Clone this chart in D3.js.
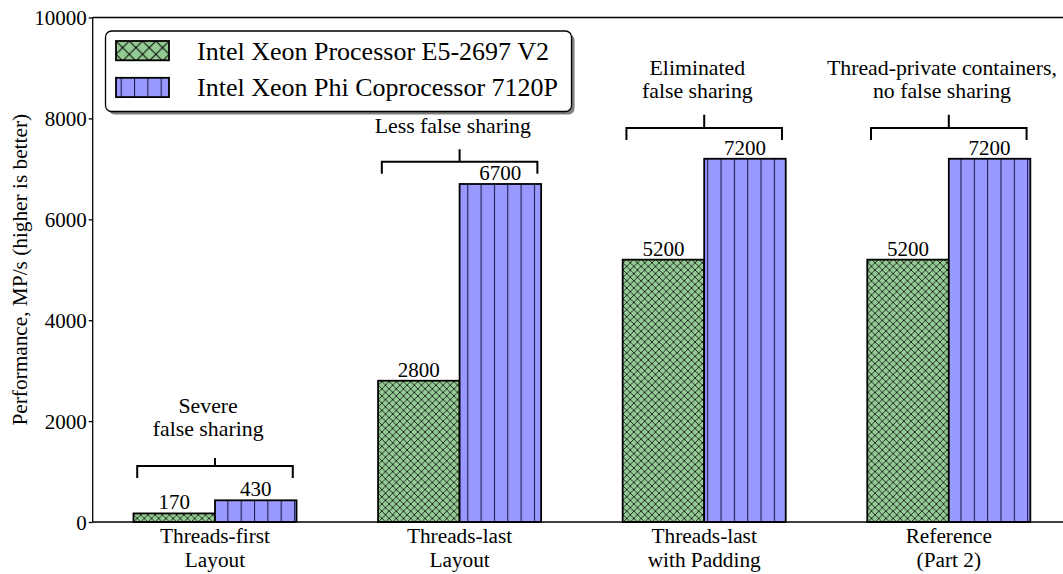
<!DOCTYPE html>
<html>
<head>
<meta charset="utf-8">
<script src="https://cdn.jsdelivr.net/npm/d3@7"></script>
<style>
  html, body { margin: 0; padding: 0; background: #fff; }
  svg { display: block; }
  text { font-family: "Liberation Serif", "Times New Roman", serif; fill: #000; }
</style>
</head>
<body>
<svg id="chart" width="1063" height="574"></svg>
<script>
// ---- data ----
const categories = [
  ["Threads-first", "Layout"],
  ["Threads-last", "Layout"],
  ["Threads-last", "with Padding"],
  ["Reference", "(Part 2)"]
];
const seriesNames = ["Intel Xeon Processor E5-2697 V2", "Intel Xeon Phi Coprocessor 7120P"];
const xeonValues = [170, 2800, 5200, 5200];
const phiValues = [430, 6700, 7200, 7200];
const yTicks = [0, 2000, 4000, 6000, 8000, 10000];
const annotationTexts = [
  ["Severe", "false sharing"],
  ["Less false sharing"],
  ["Eliminated", "false sharing"],
  ["Thread-private containers,", "no false sharing"]
];
// annotation anchor levels in data units (bracket, arrow top, text baseline of last line)
const bracketLevels = [1110, 7140, 7810, 7810];
const arrowTopLevels = [1270, 7390, 8070, 8070];
const textLevels = [1711, 7710, 8410, 8410];

// ---- layout ----
const svg = d3.select("#chart");
const plotLeft = 92.7, plotTop = 17.5, plotBottom = 522;
const x = d3.scaleLinear().domain([-0.5, 3.5]).range([plotLeft, plotLeft + 4 * 244.6]);
const y = d3.scaleLinear().domain([0, 10000]).range([plotBottom, plotTop]);
const barW = 1 / 3;
const green = "#94cb94", blue = "#9999ff";

// patterns
const defs = svg.append("defs");
const P = 7.2;
const pc = defs.append("pattern").attr("id", "cross").attr("patternUnits", "userSpaceOnUse")
  .attr("width", P).attr("height", P).attr("x", 0.3).attr("y", 0);
pc.append("rect").attr("width", P).attr("height", P).attr("fill", green);
pc.append("path").attr("d", `M0,0L${P},${P}M0,${P}L${P},0M-1,1L1,-1M${P - 1},${P + 1}L${P + 1},${P - 1}`)
  .attr("stroke", "#000").attr("stroke-width", 0.75).attr("fill", "none");
const pv = defs.append("pattern").attr("id", "vert").attr("patternUnits", "userSpaceOnUse")
  .attr("width", 13.33).attr("height", 20).attr("x", 0.7).attr("y", 0);
pv.append("rect").attr("width", 13.33).attr("height", 20).attr("fill", blue);
pv.append("line").attr("x1", 0.5).attr("x2", 0.5).attr("y1", 0).attr("y2", 20)
  .attr("stroke", "#1a1a4a").attr("stroke-width", 1.1);

const pcl = defs.append("pattern").attr("id", "crossL").attr("patternUnits", "userSpaceOnUse")
  .attr("width", 13.3).attr("height", 13.3).attr("x", 116).attr("y", 41);
pcl.append("rect").attr("width", 13.3).attr("height", 13.3).attr("fill", green);
pcl.append("path").attr("d", "M0,0L13.3,13.3M0,13.3L13.3,0")
  .attr("stroke", "#000").attr("stroke-width", 1).attr("fill", "none");

// top spine
svg.append("line").attr("x1", plotLeft).attr("x2", 1063).attr("y1", plotTop).attr("y2", plotTop)
  .attr("stroke", "#000").attr("stroke-width", 1.3);

// bars
const g = svg.append("g");
g.selectAll("rect.xeon").data(xeonValues).join("rect").attr("class", "xeon")
  .attr("x", (d, i) => x(i - barW)).attr("width", x(barW) - x(0))
  .attr("y", d => y(d)).attr("height", d => y(0) - y(d))
  .attr("fill", "url(#cross)").attr("stroke", "#000").attr("stroke-width", 1.8);
g.selectAll("rect.phi").data(phiValues).join("rect").attr("class", "phi")
  .attr("x", (d, i) => x(i)).attr("width", x(barW) - x(0))
  .attr("y", d => y(d)).attr("height", d => y(0) - y(d))
  .attr("fill", "url(#vert)").attr("stroke", "#000").attr("stroke-width", 1.8);

// value labels
g.selectAll("text.xv").data(xeonValues).join("text").attr("class", "xv")
  .attr("x", (d, i) => x(i - barW / 2)).attr("y", d => y(d) - 4)
  .attr("text-anchor", "middle").attr("font-size", 21).text(d => d);
g.selectAll("text.pv").data(phiValues).join("text").attr("class", "pv")
  .attr("x", (d, i) => x(i + barW / 2)).attr("y", d => y(d) - 4)
  .attr("text-anchor", "middle").attr("font-size", 21).text(d => d);

// y axis
const yAxis = d3.axisLeft(y).tickValues(yTicks).tickSize(4).tickPadding(2).tickFormat(d3.format("d"));
const ya = svg.append("g").attr("transform", `translate(${plotLeft},0)`).call(yAxis);
ya.select(".domain").attr("stroke", "#000").attr("stroke-width", 1.3).attr("d", `M0,${plotTop}V${plotBottom}`);
ya.selectAll(".tick line").attr("stroke", "#000").attr("stroke-width", 1.3);
ya.selectAll(".tick text").attr("font-size", 21).attr("font-family", "Liberation Serif, serif")
  .attr("fill", "#000").attr("dy", "0.34em");

// x baseline
svg.append("line").attr("x1", plotLeft).attr("x2", 1063).attr("y1", plotBottom).attr("y2", plotBottom)
  .attr("stroke", "#000").attr("stroke-width", 1.3);

// category labels
const xl = svg.append("g");
categories.forEach((c, i) => {
  const t = xl.append("text").attr("x", x(i)).attr("text-anchor", "middle").attr("font-size", 21.3);
  c.forEach((line, j) => {
    t.append("tspan").attr("x", x(i)).attr("y", 543 + j * 23.5).text(line);
  });
});

// y label
svg.append("text").attr("transform", `translate(27,${(plotTop + plotBottom) / 2}) rotate(-90)`)
  .attr("text-anchor", "middle").attr("font-size", 21.3)
  .text("Performance, MP/s (higher is better)");

// annotations (brackets)
const ann = svg.append("g");
annotationTexts.forEach((lines, i) => {
  const cx = x(i), yb = y(bracketLevels[i]);
  const half = 0.318;
  ann.append("path")
    .attr("d", `M${x(i - half)},${yb + 12}V${yb}H${x(i + half)}V${yb + 12}M${cx},${yb}V${y(arrowTopLevels[i])}`)
    .attr("fill", "none").attr("stroke", "#000").attr("stroke-width", 2);
  const base = y(textLevels[i]);
  const n = lines.length;
  lines.forEach((line, j) => {
    ann.append("text").attr("x", x(i - 0.028)).attr("y", base - (n - 1 - j) * 22.5)
      .attr("text-anchor", "middle").attr("font-size", 21.8).text(line);
  });
});

// legend
const lg = svg.append("g");
lg.append("rect").attr("x", 108.5).attr("y", 34).attr("width", 466).attr("height", 80.5)
  .attr("rx", 6).attr("fill", "#7f7f7f");
lg.append("rect").attr("x", 105.5).attr("y", 31).attr("width", 466).attr("height", 80.5)
  .attr("rx", 6).attr("fill", "#fff").attr("stroke", "#000").attr("stroke-width", 1.3);
const legendFills = ["url(#crossL)", "url(#vert)"];
seriesNames.forEach((name, i) => {
  const ry = 41 + i * 36.8;
  lg.append("rect").attr("x", 116).attr("y", ry).attr("width", 53).attr("height", 19.3)
    .attr("fill", legendFills[i]).attr("stroke", "#000").attr("stroke-width", 1.8);
  lg.append("text").attr("x", 197).attr("y", ry + 18.5).attr("font-size", 26).text(name);
});
</script>
</body>
</html>
